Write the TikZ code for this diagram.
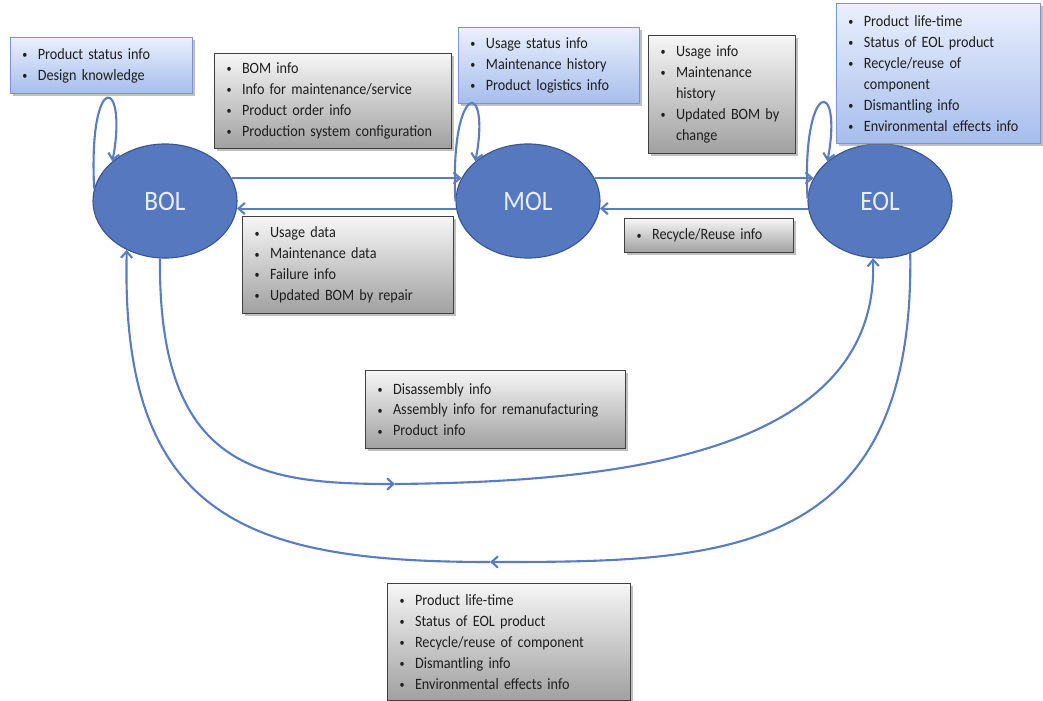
\documentclass[tikz,border=0pt]{standalone}
\usepackage{fontspec}
\setmainfont[FakeStretch=0.9, WordSpace=0.7]{Carlito}
\usetikzlibrary{shapes.geometric}
\usetikzlibrary{arrows.meta}
\usetikzlibrary{shadows}

\definecolor{phasefill}{RGB}{86,120,190}
\definecolor{phaseline}{RGB}{58,86,145}
\definecolor{phasetext}{RGB}{232,238,250}
\definecolor{flowblue}{RGB}{90,124,192}
\definecolor{bluetop}{RGB}{234,240,253}
\definecolor{bluebot}{RGB}{166,189,236}
\definecolor{blueline}{RGB}{120,150,210}
\definecolor{greytop}{RGB}{246,246,246}
\definecolor{greybot}{RGB}{160,160,160}
\definecolor{greyline}{RGB}{64,64,64}
\definecolor{ink}{RGB}{30,30,30}

\newcommand{\itm}[1]{\makebox[11pt][l]{\raisebox{0.1ex}{\footnotesize\textbullet}}\mbox{#1}}
\newcommand{\cont}[1]{\hspace*{11pt}\mbox{#1}}

\begin{document}
\begin{tikzpicture}[x=0.025cm, y=-0.025cm,
    phase/.style={ellipse, draw=phaseline, line width=0.8pt, fill=phasefill, text=phasetext,
      minimum width=3.6cm, minimum height=2.85cm, inner sep=0pt, font=\fontsize{20}{24}\selectfont},
    info/.style={rectangle, anchor=north west, inner xsep=0.3cm, inner ysep=0pt, align=left,
      text=ink, font=\fontsize{11.2}{14.9}\selectfont,
      drop shadow={shadow xshift=2pt, shadow yshift=-2pt, fill=black!50, opacity=0.5}},
    bluebox/.style={info, draw=blueline, line width=0.6pt, top color=bluetop, bottom color=bluebot},
    greybox/.style={info, draw=greyline, line width=0.8pt, top color=greytop, bottom color=greybot},
    flow/.style={draw=flowblue, line width=1.5pt, -{Straight Barb[length=4.5pt,width=8pt]}}]

  \useasboundingbox (0,0) rectangle (1043,701);

  % Fases
  \node[phase] (bol) at (165,201) {BOL};
  \node[phase] (mol) at (528,201) {MOL};
  \node[phase] (eol) at (880,201) {EOL};

  % Cajas de informacion
  \node[bluebox, minimum width=4.55cm, text width=3.95cm, minimum height=1.4cm] (statusinfo) at (10,37)
    {\itm{Product status info}\\ \itm{Design knowledge}};
  \node[greybox, minimum width=5.925cm, text width=5.325cm, minimum height=2.375cm] (bominfo) at (214,53)
    {\itm{BOM info}\\ \itm{Info for maintenance/service}\\ \itm{Product order info}\\ \itm{Production system configuration}};
  \node[bluebox, minimum width=4.525cm, text width=3.925cm, minimum height=1.9cm] (usagestatus) at (458,27)
    {\itm{Usage status info}\\ \itm{Maintenance history}\\ \itm{Product logistics info}};
  \node[greybox, minimum width=3.675cm, text width=3.075cm, minimum height=2.95cm] (usageinfo) at (648,35)
    {\itm{Usage info}\\ \itm{Maintenance}\\ \cont{history}\\ \itm{Updated BOM by}\\ \cont{change}};
  \node[bluebox, minimum width=5.1cm, text width=4.5cm, minimum height=3.5cm] (eolstatus) at (836,3)
    {\itm{Product life-time}\\ \itm{Status of EOL product}\\ \itm{Recycle/reuse of}\\ \cont{component}\\ \itm{Dismantling info}\\ \itm{Environmental effects info}};
  \node[greybox, minimum width=5.275cm, text width=4.675cm, minimum height=2.425cm] (usagedata) at (242,216)
    {\itm{Usage data}\\ \itm{Maintenance data}\\ \itm{Failure info}\\ \itm{Updated BOM by repair}};
  \node[greybox, minimum width=4.225cm, text width=3.625cm, minimum height=0.85cm] (recycle) at (624,218)
    {\itm{Recycle/Reuse info}};
  \node[greybox, minimum width=6.5cm, text width=5.9cm, minimum height=1.95cm] (disassembly) at (365,370)
    {\itm{Disassembly info}\\ \itm{Assembly info for remanufacturing}\\ \itm{Product info}};
  \node[greybox, minimum width=6.075cm, text width=5.475cm, minimum height=2.925cm] (eolback) at (387,583)
    {\itm{Product life-time}\\ \itm{Status of EOL product}\\ \itm{Recycle/reuse of component}\\ \itm{Dismantling info}\\ \itm{Environmental effects info}};

  \coordinate (lowin) at (395,484);
  \coordinate (lowout) at (490,562);

  % Flechas
  \draw[flow] (bol.19) -- (mol.161);
  \draw[flow] (mol.186) -- (bol.-6);
  \draw[flow] (mol.19) -- (eol.161);
  \draw[flow] (eol.186) -- (mol.-6);

  \draw[flow] (bol.170) .. controls +(-6,-120) and +(16,-85) .. (bol.143);
  \draw[flow] (mol.180) .. controls +(-6,-120) and +(16,-85) .. (mol.143);
  \draw[flow] (eol.178) .. controls +(-6,-120) and +(16,-85) .. (eol.143);

  \draw[flow] (bol.265) .. controls (158,470) and (260,484) .. (lowin);
  \draw[flow] (lowin) .. controls (600,482) and (880,460) .. (eol.-97);
  \draw[flow] (eol.-60) .. controls (915,560) and (720,562) .. (lowout);
  \draw[flow] (lowout) .. controls (250,562) and (120,520) .. (bol.232);
\end{tikzpicture}
\end{document}
